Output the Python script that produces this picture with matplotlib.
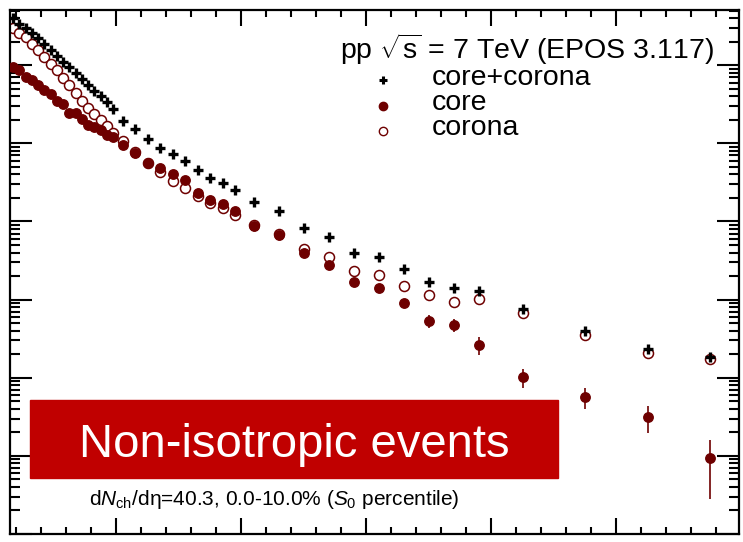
import numpy as np
import matplotlib
matplotlib.use('agg')
import matplotlib.pyplot as plt
from matplotlib.patches import Rectangle
from matplotlib.lines import Line2D
from matplotlib.ticker import MultipleLocator, LogLocator, NullFormatter

plt.rcParams['font.family'] = ['Liberation Sans', 'DejaVu Sans']
plt.rcParams['mathtext.fontset'] = 'custom'
plt.rcParams['mathtext.rm'] = 'Liberation Sans'
plt.rcParams['mathtext.it'] = 'Liberation Sans:italic'
plt.rcParams['mathtext.bf'] = 'Liberation Sans:bold'

# bin centres (GeV/c)
pt = [0.175, 0.225, 0.275, 0.325, 0.375, 0.425, 0.475, 0.525, 0.575, 0.625,
      0.675, 0.725, 0.775, 0.825, 0.875, 0.925, 0.975,
      1.05, 1.15, 1.25, 1.35, 1.45, 1.55, 1.65, 1.75, 1.85, 1.95,
      2.1, 2.3, 2.5, 2.7, 2.9, 3.1, 3.3, 3.5, 3.7, 3.9,
      4.25, 4.75, 5.25, 5.75]

core_corona = [4.02, 3.37, 2.99, 2.58, 2.23, 1.87, 1.56, 1.31, 1.10, 0.95,
               0.794, 0.666, 0.558, 0.467, 0.403, 0.340, 0.275,
               0.193, 0.152, 0.1135, 0.0871, 0.0729, 0.0593, 0.0455, 0.0359, 0.0310, 0.0252,
               0.0177, 0.0136, 0.00824, 0.00631, 0.00394, 0.00350, 0.00246, 0.00168, 0.00140, 0.00128,
               0.000755, 0.000395, 0.000232, 0.000184]

core = [0.948, 0.868, 0.706, 0.646, 0.558, 0.481, 0.428, 0.348, 0.319, 0.244,
        0.242, 0.205, 0.1715, 0.162, 0.148, 0.128, 0.1204,
        0.0951, 0.0751, 0.0560, 0.0483, 0.0404, 0.0339, 0.0231, 0.0188, 0.0167, 0.0136,
        0.00873, 0.00670, 0.00394, 0.00277, 0.00168, 0.00140, 0.000902, 0.000531, 0.000471, 0.000261,
        0.000102, 0.0000565, 0.0000313, 0.00000935]

core_err = [0.0] * 33 + [0.000108, 0.000101, 0.0000895, 0.0000679,
                         0.0000270, 0.0000170, 0.0000119, 0.00000655]

corona = [2.99, 2.58, 2.30, 1.87, 1.56, 1.27, 1.04, 0.868, 0.686, 0.558,
          0.441, 0.348, 0.283, 0.237, 0.199, 0.1665, 0.1355,
          0.107, 0.0774, 0.0560, 0.0429, 0.0329, 0.0268, 0.0211, 0.0172, 0.0149, 0.0121,
          0.0090, 0.0069, 0.00443, 0.00350, 0.00232, 0.00206, 0.00149, 0.00114, 0.000929, 0.00101,
          0.000671, 0.000351, 0.000207, 0.000173]

W, H = 743, 542
red = '#6e0000'

fig = plt.figure(figsize=(W / 100, H / 100), dpi=100)
ax = fig.add_axes([10 / W, 1 - 534 / H, (739 - 10) / W, (534 - 10) / H])
ax.set_yscale('log')
ax.set_xlim(0.15, 5.98)
ax.set_ylim(1e-6, 5.09)

ax.errorbar(pt, corona, fmt='o', mfc='white', mec=red, mew=1.1, ms=7.2,
            ls='none', zorder=2)
ax.errorbar(pt, core, yerr=core_err, fmt='o', color=red, ms=6.8,
            elinewidth=1.2, capsize=0, ls='none', zorder=3)
ax.plot(pt, core_corona, '+', color='black', ms=6.8, mew=2.4, ls='none', zorder=4)

ax.xaxis.set_major_locator(MultipleLocator(1))
ax.xaxis.set_minor_locator(MultipleLocator(0.2))
ax.yaxis.set_major_locator(LogLocator(base=10, numticks=20))
ax.yaxis.set_minor_locator(LogLocator(base=10, subs=np.arange(2, 10), numticks=20))
ax.yaxis.set_minor_formatter(NullFormatter())
ax.tick_params(which='both', direction='in', top=True, right=True,
               labelleft=False, labelbottom=False, width=1.5)
ax.tick_params(axis='x', which='major', length=11.5)
ax.tick_params(axis='x', which='minor', length=5)
ax.tick_params(axis='y', which='major', length=15.5)
ax.tick_params(axis='y', which='minor', length=7.5)
for s in ax.spines.values():
    s.set_linewidth(1.6)

def fx(x):
    return x / W

def fy(y):
    return 1 - y / H

# header and legend
fig.text(fx(714), fy(59), r'pp $\sqrt{\mathrm{s}}$ = 7 TeV (EPOS 3.117)',
         fontsize=20.5, ha='right', va='baseline')
labels = ['core+corona', 'core', 'corona']
ys = [85, 110, 135]
fig.add_artist(Line2D([fx(383)], [fy(80)], marker='+', color='black', ms=6, mew=2.2,
                      transform=fig.transFigure))
fig.add_artist(Line2D([fx(383)], [fy(106)], marker='o', color=red, ms=6,
                      transform=fig.transFigure))
fig.add_artist(Line2D([fx(383)], [fy(131)], marker='o', mfc='white', mec=red, mew=1,
                      ms=6, transform=fig.transFigure))
for lab, y in zip(labels, ys):
    fig.text(fx(432), fy(y), lab, fontsize=20.5, ha='left', va='baseline')

# banner
fig.add_artist(Rectangle((fx(30), fy(478)), 528 / W, 78 / H, transform=fig.transFigure,
                         color='#c00000', zorder=5))
fig.text(fx(294), fy(457), 'Non-isotropic events', color='white', fontsize=34,
         ha='center', va='baseline', zorder=6)

fig.text(fx(89), fy(505), r'd$N_{\mathrm{ch}}$/dη=40.3, 0.0-10.0% ($S_{0}$ percentile)',
         fontsize=15, ha='left', va='baseline')

fig.savefig('out.png', dpi=100)
